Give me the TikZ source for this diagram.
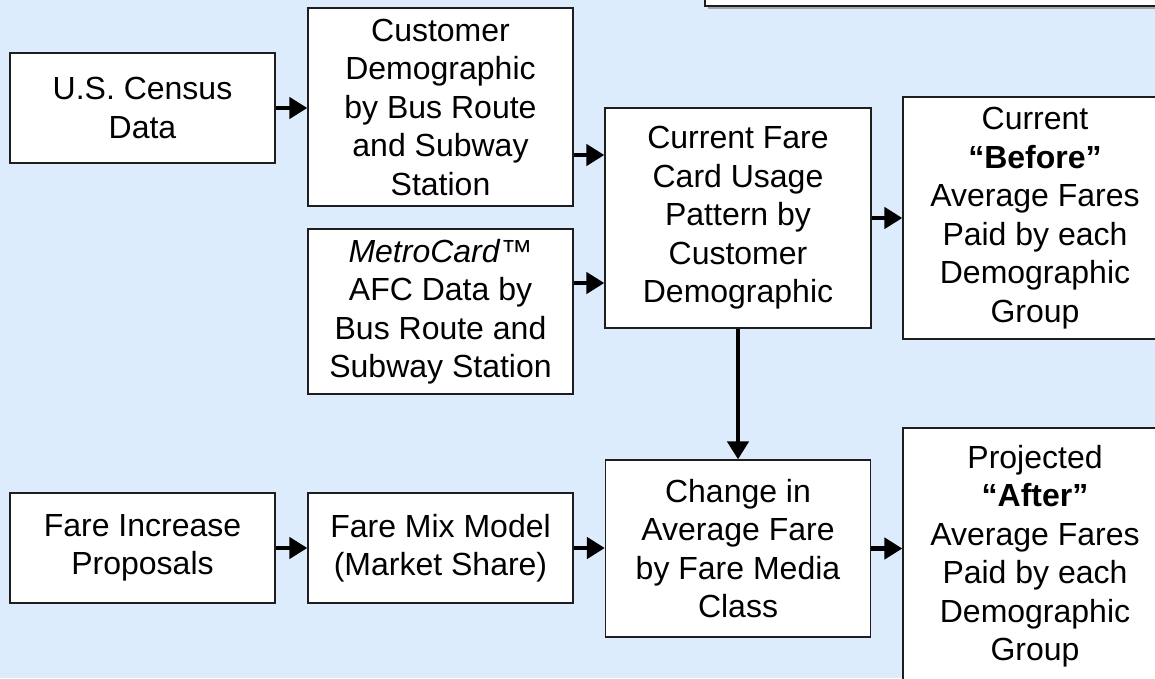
\documentclass[tikz,border=0pt]{standalone}
\usepackage{fontspec}
\setmainfont{Liberation Sans}
\usetikzlibrary{arrows.meta}
\definecolor{bgblue}{RGB}{221,236,252}
\definecolor{edge}{RGB}{30,30,30}
\tikzset{
  box/.style={draw=edge, line width=1.3pt, fill=white, rectangle, inner sep=0pt,
    align=center, font=\fontsize{32}{38.5}\selectfont},
  arr/.style={line width=4.5pt, draw=black, -{Triangle[length=18pt,width=21pt]}},
}
\begin{document}
\begin{tikzpicture}[x=1pt,y=-1pt]
\useasboundingbox (0,0) rectangle (1155,678);
\clip (0,0) rectangle (1155,678);
\fill[bgblue] (0,0) rectangle (1155,678);
% partial box at the top
\fill[gray!70] (708,-60) rectangle (1200,9);
\draw[edge, line width=2pt, fill=white] (705,-60) rectangle (1200,6);
% nodes
\node[box, minimum width=265pt, minimum height=110pt] (census) at (142.5,108) {U.S. Census\\Data};
\node[box, minimum width=265pt, minimum height=198pt] (cust) at (440.5,107) {Customer\\Demographic\\by Bus Route\\and Subway\\Station};
\node[box, minimum width=265pt, minimum height=165pt] (metro) at (440.5,311.5) {\textit{MetroCard}™\\AFC Data by\\Bus Route and\\Subway Station};
\node[box, minimum width=266pt, minimum height=220pt] (current) at (738,218) {Current Fare\\Card Usage\\Pattern by\\Customer\\Demographic};
\node[box, minimum width=264pt, minimum height=242pt] (before) at (1035,218) {Current\\\textbf{“Before”}\\Average Fares\\Paid by each\\Demographic\\Group};
\node[box, minimum width=265pt, minimum height=110pt] (fareinc) at (142.5,548) {Fare Increase\\Proposals};
\node[box, minimum width=265pt, minimum height=110pt] (faremix) at (440.5,548) {Fare Mix Model\\(Market Share)};
\node[box, minimum width=265pt, minimum height=177pt] (change) at (738,548.5) {Change in\\Average Fare\\by Fare Media\\Class};
\node[box, minimum width=264pt, minimum height=256pt] (after) at (1035,556) {Projected\\\textbf{“After”}\\Average Fares\\Paid by each\\Demographic\\Group};
% connectors
\draw[arr] (census.east) -- (census.east -| cust.west);
\draw[arr] ([yshift=-48pt]cust.east) -- ([yshift=-48pt]cust.east -| current.west);
\draw[arr] ([yshift=28.5pt]metro.east) -- ([yshift=28.5pt]metro.east -| current.west);
\draw[arr] (current.east) -- (before.west);
\draw[arr] (current.south) -- (change.north);
\draw[arr] (fareinc.east) -- (faremix.west);
\draw[arr] (faremix.east) -- (faremix.east -| change.west);
\draw[arr] (change.east) -- (change.east -| after.west);
\end{tikzpicture}
\end{document}
